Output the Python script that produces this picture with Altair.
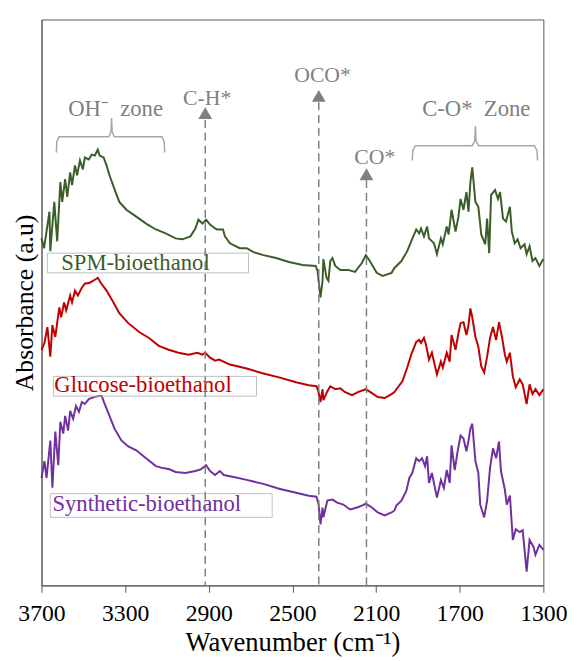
import altair as alt
import pandas as pd

FONT = "Liberation Serif"

# ---- spectra (wavenumber cm-1, absorbance a.u., offset stacked) ----
spm_wn = [3700, 3688, 3662, 3658, 3639, 3625, 3610, 3601, 3587, 3577, 3563, 3554, 3540, 3530,
          3516, 3502, 3493, 3474, 3460, 3445, 3431, 3422, 3403, 3389, 3375, 3351, 3328, 3294,
          3247, 3200, 3153, 3106, 3059, 3026, 2988, 2964, 2950, 2931, 2913, 2894, 2870, 2861,
          2832, 2823, 2799, 2752, 2719, 2686, 2639, 2578, 2517, 2451, 2389, 2380, 2366, 2356,
          2352, 2337, 2328, 2319, 2309, 2295, 2271, 2234, 2201, 2168, 2149, 2130, 2097, 2069,
          2026, 2012, 1979, 1951, 1932, 1908, 1894, 1885, 1871, 1856, 1847, 1823, 1809, 1790,
          1781, 1762, 1753, 1739, 1720, 1706, 1696, 1682, 1668, 1658, 1649, 1640, 1625, 1611,
          1597, 1578, 1569, 1559, 1550, 1531, 1517, 1507, 1493, 1479, 1460, 1451, 1437, 1423,
          1409, 1390, 1380, 1366, 1352, 1338, 1319, 1300]
spm_abs = [3.52, 3.42, 3.79, 3.39, 3.89, 3.49, 4.09, 3.89, 4.12, 3.94, 4.19, 4.06, 4.26, 4.16,
           4.31, 4.22, 4.34, 4.32, 4.37, 4.36, 4.42, 4.36, 4.34, 4.26, 4.16, 4.02, 3.89, 3.81,
           3.74, 3.67, 3.61, 3.57, 3.52, 3.51, 3.54, 3.62, 3.71, 3.67, 3.71, 3.66, 3.62, 3.61,
           3.61, 3.54, 3.47, 3.42, 3.42, 3.38, 3.35, 3.32, 3.28, 3.25, 3.24, 3.19, 2.92, 3.09,
           3.31, 3.12, 3.09, 3.29, 3.32, 3.24, 3.20, 3.20, 3.18, 3.27, 3.35, 3.29, 3.17, 3.14,
           3.17, 3.22, 3.29, 3.39, 3.49, 3.61, 3.57, 3.62, 3.54, 3.64, 3.52, 3.47, 3.36, 3.52,
           3.46, 3.64, 3.56, 3.81, 3.59, 3.74, 3.92, 3.81, 3.99, 3.79, 4.09, 4.24, 3.89, 3.84,
           3.56, 3.46, 3.72, 3.37, 3.96, 4.01, 3.92, 3.99, 3.72, 3.69, 3.84, 3.59, 3.47, 3.51,
           3.42, 3.46, 3.36, 3.44, 3.29, 3.32, 3.24, 3.31]

glu_wn = [3700, 3686, 3672, 3658, 3648, 3634, 3615, 3606, 3592, 3582, 3563, 3554, 3540, 3526,
          3507, 3493, 3469, 3445, 3431, 3417, 3389, 3356, 3328, 3285, 3233, 3186, 3139, 3092,
          3045, 2997, 2955, 2931, 2917, 2894, 2870, 2851, 2799, 2719, 2639, 2564, 2483, 2422,
          2385, 2375, 2366, 2356, 2352, 2333, 2319, 2295, 2271, 2248, 2215, 2187, 2149, 2120,
          2092, 2059, 2026, 2012, 2003, 1974, 1951, 1932, 1908, 1894, 1885, 1871, 1861, 1847,
          1833, 1809, 1790, 1781, 1762, 1748, 1739, 1720, 1706, 1696, 1682, 1668, 1658, 1649,
          1640, 1625, 1611, 1597, 1583, 1569, 1555, 1541, 1526, 1512, 1498, 1484, 1475, 1460,
          1446, 1432, 1413, 1399, 1380, 1366, 1352, 1338, 1319, 1300]
glu_abs = [2.39, 2.46, 2.62, 2.32, 2.64, 2.52, 2.82, 2.72, 2.87, 2.79, 2.94, 2.87, 2.99, 2.94,
           3.02, 3.06, 3.07, 3.10, 3.12, 3.07, 2.99, 2.87, 2.76, 2.66, 2.57, 2.51, 2.43, 2.39,
           2.36, 2.34, 2.36, 2.34, 2.36, 2.31, 2.28, 2.29, 2.24, 2.20, 2.15, 2.11, 2.06, 2.03,
           2.02, 1.96, 1.86, 1.99, 1.88, 1.97, 2.02, 1.99, 2.00, 1.96, 1.93, 1.96, 1.99, 1.95,
           1.91, 1.90, 1.94, 1.96, 1.99, 2.07, 2.21, 2.34, 2.47, 2.49, 2.46, 2.51, 2.44, 2.29,
           2.36, 2.14, 2.27, 2.21, 2.36, 2.27, 2.54, 2.39, 2.56, 2.66, 2.67, 2.54, 2.64, 2.81,
           2.72, 2.52, 2.42, 2.22, 2.16, 2.32, 2.51, 2.62, 2.49, 2.67, 2.52, 2.34, 2.27, 2.36,
           2.12, 2.01, 2.09, 2.04, 1.84, 2.04, 1.94, 1.99, 1.93, 1.99]

syn_wn = [3700, 3686, 3676, 3658, 3648, 3634, 3620, 3610, 3596, 3587, 3573, 3563, 3549, 3535,
          3521, 3507, 3493, 3474, 3450, 3427, 3412, 3398, 3375, 3351, 3318, 3285, 3247, 3200,
          3153, 3120, 3092, 3059, 3012, 2964, 2936, 2913, 2894, 2870, 2847, 2828, 2781, 2719,
          2639, 2564, 2483, 2422, 2385, 2375, 2366, 2356, 2352, 2333, 2309, 2286, 2257, 2224,
          2191, 2168, 2149, 2120, 2092, 2059, 2026, 2012, 2003, 1979, 1955, 1941, 1927, 1908,
          1894, 1880, 1866, 1856, 1847, 1833, 1809, 1790, 1776, 1762, 1748, 1739, 1724, 1710,
          1696, 1682, 1668, 1658, 1649, 1640, 1625, 1611, 1602, 1583, 1569, 1555, 1541, 1526,
          1512, 1503, 1484, 1475, 1460, 1446, 1432, 1413, 1399, 1380, 1366, 1347, 1338, 1319,
          1300]
syn_abs = [1.09, 1.26, 1.09, 1.47, 0.99, 1.56, 1.22, 1.66, 1.54, 1.72, 1.57, 1.77, 1.69, 1.82,
           1.76, 1.86, 1.84, 1.89, 1.91, 1.92, 1.92, 1.84, 1.72, 1.59, 1.47, 1.41, 1.37, 1.29,
           1.21, 1.19, 1.18, 1.15, 1.14, 1.16, 1.18, 1.22, 1.16, 1.12, 1.16, 1.12, 1.10, 1.07,
           1.03, 0.98, 0.94, 0.91, 0.90, 0.82, 0.62, 0.79, 0.69, 0.86, 0.87, 0.84, 0.82, 0.77,
           0.79, 0.81, 0.83, 0.79, 0.74, 0.71, 0.74, 0.76, 0.81, 0.86, 0.96, 1.09, 1.14, 1.29,
           1.26, 1.29, 1.21, 1.31, 1.04, 1.14, 0.89, 1.07, 0.99, 1.17, 1.04, 1.42, 1.17, 1.36,
           1.52, 1.49, 1.36, 1.47, 1.59, 1.64, 1.26, 1.14, 0.82, 0.69, 0.86, 1.19, 1.39, 1.29,
           1.46, 1.16, 0.97, 0.82, 0.91, 0.46, 0.57, 0.54, 0.56, 0.14, 0.46, 0.39, 0.31, 0.41,
           0.36]

series_names = ["SPM-bioethanol", "Glucose-bioethanol", "Synthetic-bioethanol"]
series_colors = ["#3b5d29", "#c00000", "#7030a0"]

# series label boxes
box_wn_left = [3672, 3643, 3658]
box_wn_right = [2710, 2672, 2597]
box_abs_top = [3.37, 2.12, 0.93]
box_abs_bottom = [3.17, 1.92, 0.69]
label_wn = [3606, 3639, 3648]
label_abs = [3.27, 2.03, 0.82]

# band markers (dashed lines with arrows)
band_labels = ["C-H*", "OCO*", "CO*"]
band_wn = [2917, 2374, 2146]
band_line_top = [4.72, 4.90, 4.11]
band_arrow = [4.79, 4.965, 4.17]
band_text_wn = [2908, 2356, 2106]
band_text_abs = [4.94, 5.18, 4.34]

# zone brackets
zone_labels = ["OH\u207b\u00a0 zone", "C-O*\u00a0 Zone"]
zone_text_wn = [3346, 1621]
zone_text_abs = [4.83, 4.83]
zone_left = [3629, 1927]
zone_right = [3111, 1328]
zone_mid = [3365, 1625]
zone_bar = [4.55, 4.46]
zone_end = [4.39, 4.31]
zone_peak = [4.74, 4.66]

GRAY = "#7f7f7f"

rows = []
for name, wn, ab in zip(series_names, [spm_wn, glu_wn, syn_wn], [spm_abs, glu_abs, syn_abs]):
    for i, (w, a) in enumerate(zip(wn, ab)):
        rows.append({"series": name, "wn": w, "ab": a, "i": i})
df = pd.DataFrame(rows)

boxes = pd.DataFrame({"series": series_names, "wn": box_wn_left, "wn2": box_wn_right,
                      "ab": box_abs_top, "ab2": box_abs_bottom,
                      "lwn": label_wn, "lab": label_abs})

bands = pd.DataFrame({"label": band_labels, "wn": band_wn, "top": band_line_top,
                      "bottom": [0, 0, 0], "arrow": band_arrow,
                      "twn": band_text_wn, "tab": band_text_abs})

brows = []
for k in range(len(zone_labels)):
    L, R, M = zone_left[k], zone_right[k], zone_mid[k]
    bar, end, peak = zone_bar[k], zone_end[k], zone_peak[k]
    s = (L - R) / 100.0
    pts = [(L, end), (L - 0.4 * s, bar - 0.05), (L - 2.5 * s, bar), (M + 2.5 * s, bar),
           (M + 0.5 * s, bar + 0.05), (M, peak), (M - 0.5 * s, bar + 0.05),
           (M - 2.5 * s, bar), (R + 2.5 * s, bar), (R + 0.4 * s, bar - 0.05), (R, end)]
    for i, (w, a) in enumerate(pts):
        brows.append({"zone": zone_labels[k], "wn": w, "ab": a, "i": i})
brackets = pd.DataFrame(brows)
zones = pd.DataFrame({"label": zone_labels, "wn": zone_text_wn, "ab": zone_text_abs})

XTITLE = "Wavenumber (cm\u207b\u00b9)"
YTITLE = "Absorbance (a.u)"

xscale = alt.Scale(domain=[3700, 1300], nice=False, zero=False)
yscale = alt.Scale(domain=[0, 5.74], nice=False, zero=False)
cscale = alt.Scale(domain=series_names, range=series_colors)

xaxis = alt.Axis(values=[3700, 3300, 2900, 2500, 2100, 1700, 1300], format="d",
                 tickSize=7, tickColor="#595959", domainColor="#595959",
                 labelFont=FONT, labelFontSize=24, labelColor="black", labelPadding=10,
                 labelFlush=False, labelOverlap=False,
                 titleFont=FONT, titleFontSize=27, titleFontWeight="normal",
                 titleColor="black", titlePadding=4, grid=False)
yaxis = alt.Axis(ticks=False, labels=False, domainColor="#595959",
                 titleFont=FONT, titleFontSize=26, titleFontWeight="normal",
                 titleColor="black", titlePadding=4, grid=False)


def X(field):
    return alt.X(field, scale=xscale, axis=xaxis, title=XTITLE)


def Y(field):
    return alt.Y(field, scale=yscale, axis=yaxis, title=YTITLE)


lines = alt.Chart(df).mark_line(strokeWidth=2).encode(
    x=X("wn:Q"), y=Y("ab:Q"),
    color=alt.Color("series:N", scale=cscale, legend=None),
    order="i:Q",
)

box_layer = alt.Chart(boxes).mark_rect(fillOpacity=0, stroke="#bfbfbf", strokeWidth=1).encode(
    x=X("wn:Q"), x2="wn2:Q", y=Y("ab:Q"), y2="ab2:Q",
)

label_layer = alt.Chart(boxes).mark_text(align="left", baseline="middle", font=FONT,
                                         fontSize=23).encode(
    x=X("lwn:Q"), y=Y("lab:Q"),
    text="series:N",
    color=alt.Color("series:N", scale=cscale, legend=None),
)

band_rules = alt.Chart(bands).mark_rule(color=GRAY, strokeWidth=1.5, strokeDash=[8, 5]).encode(
    x=X("wn:Q"), y=Y("top:Q"), y2="bottom:Q",
)
band_arrows = alt.Chart(bands).mark_point(shape="triangle-up", filled=True, size=196,
                                          color=GRAY, opacity=1).encode(
    x=X("wn:Q"), y=Y("arrow:Q"),
)
band_text = alt.Chart(bands).mark_text(font=FONT, fontSize=22, color=GRAY,
                                       baseline="middle").encode(
    x=X("twn:Q"), y=Y("tab:Q"), text="label:N",
)

bracket_layer = alt.Chart(brackets).mark_line(color="#a6a6a6", strokeWidth=1.5).encode(
    x=X("wn:Q"), y=Y("ab:Q"), detail="zone:N", order="i:Q",
)
zone_text = alt.Chart(zones).mark_text(font=FONT, fontSize=23, color=GRAY,
                                       baseline="middle").encode(
    x=X("wn:Q"), y=Y("ab:Q"), text="label:N",
)

chart = alt.layer(
    lines, box_layer, label_layer, band_rules, band_arrows, band_text, bracket_layer, zone_text
).properties(
    width=509, height=574,
    autosize=alt.AutoSizeParams(type="none"),
    padding={"left": 34, "top": 7, "right": 26, "bottom": 70},
).configure_view(stroke="#595959", strokeWidth=1)

chart.save("out.html", embed_options={"renderer": "svg", "actions": False})
